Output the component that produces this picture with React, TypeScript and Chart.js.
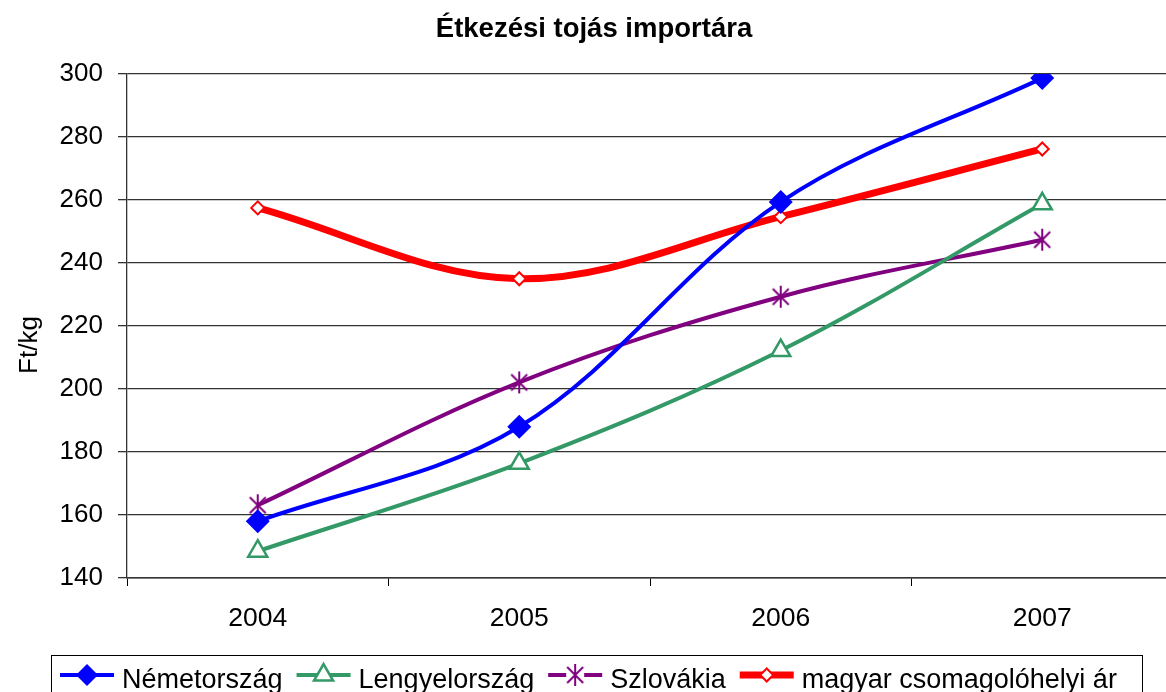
import React, { useEffect, useRef } from "react";
import { Chart, registerables } from "chart.js";

Chart.register(...registerables);

const years = ["2004", "2005", "2006", "2007"];
const nemetorszag = [158, 188, 259.4, 298.7];
const lengyelorszag = [148.5, 176.4, 212.2, 258.8];
const szlovakia = [163.1, 202.1, 229.3, 247.4];
const magyar = [257.5, 235.0, 254.7, 276.2];
const seriesNames = ["Németország", "Lengyelország", "Szlovákia", "magyar csomagolóhelyi ár"];
const yTicks = [140, 160, 180, 200, 220, 240, 260, 280, 300];
const yTitle = "Ft/kg";
const chartTitle = "Étkezési tojás importára";

const FONT = "'Liberation Sans', Arial, sans-serif";
const BLUE = "#0000FF";
const GREEN = "#339966";
const PURPLE = "#800080";
const RED = "#FF0000";

function makeStar(): HTMLCanvasElement {
  const c = document.createElement("canvas");
  c.width = 24;
  c.height = 24;
  const g = c.getContext("2d")!;
  g.strokeStyle = PURPLE;
  g.lineWidth = 2;
  g.beginPath();
  g.moveTo(4, 4); g.lineTo(20, 20);
  g.moveTo(20, 4); g.lineTo(4, 20);
  g.moveTo(12, 1); g.lineTo(12, 23);
  g.stroke();
  return c;
}

export default function App() {
  const ref = useRef<HTMLCanvasElement>(null);
  useEffect(() => {
    const star = makeStar();
    const legendPlugin = {
      id: "customLegend",
      afterDraw(chart: any) {
        const ctx = chart.ctx as CanvasRenderingContext2D;
        ctx.save();
        // y axis title
        ctx.save();
        ctx.translate(30, 345);
        ctx.rotate(-Math.PI / 2);
        ctx.font = `26px ${FONT}`;
        ctx.fillStyle = "#000";
        ctx.textAlign = "center";
        ctx.textBaseline = "middle";
        ctx.fillText(yTitle, 0, 0);
        ctx.restore();

        ctx.strokeStyle = "#000";
        ctx.lineWidth = 1;
        ctx.strokeRect(51.5, 655.5, 1091, 60);
        ctx.font = `27px ${FONT}`;
        ctx.textBaseline = "alphabetic";
        ctx.fillStyle = "#000";
        const y = 675;
        let x = 60;
        const items = [
          { color: BLUE, lw: 4 },
          { color: GREEN, lw: 4 },
          { color: PURPLE, lw: 4 },
          { color: RED, lw: 7 },
        ];
        items.forEach((it, i) => {
          const len = 54;
          ctx.strokeStyle = it.color;
          ctx.lineWidth = it.lw;
          ctx.beginPath();
          ctx.moveTo(x, y);
          ctx.lineTo(x + len, y);
          ctx.stroke();
          const cx = x + len / 2;
          if (i === 0) {
            ctx.fillStyle = BLUE;
            ctx.beginPath();
            ctx.moveTo(cx, y - 11); ctx.lineTo(cx + 11, y); ctx.lineTo(cx, y + 11); ctx.lineTo(cx - 11, y);
            ctx.closePath();
            ctx.fill();
          } else if (i === 1) {
            const r = 11;
            ctx.fillStyle = "#fff";
            ctx.strokeStyle = GREEN;
            ctx.lineWidth = 2.5;
            ctx.beginPath();
            ctx.moveTo(cx, y - r);
            ctx.lineTo(cx + r * 0.866, y + r * 0.5);
            ctx.lineTo(cx - r * 0.866, y + r * 0.5);
            ctx.closePath();
            ctx.fill();
            ctx.stroke();
          } else if (i === 2) {
            ctx.fillStyle = "#fff";
            ctx.fillRect(cx - 9, y - 11, 18, 22);
            ctx.drawImage(star, cx - 12, y - 12);
          } else {
            ctx.fillStyle = "#fff";
            ctx.strokeStyle = RED;
            ctx.lineWidth = 2;
            ctx.beginPath();
            ctx.moveTo(cx, y - 6.5); ctx.lineTo(cx + 6.5, y); ctx.lineTo(cx, y + 6.5); ctx.lineTo(cx - 6.5, y);
            ctx.closePath();
            ctx.fill();
            ctx.stroke();
          }
          x += len + 8;
          ctx.fillStyle = "#000";
          ctx.fillText(seriesNames[i], x, 688);
          x += ctx.measureText(seriesNames[i]).width + 14;
        });
        ctx.restore();
      },
    };

    const chart = new Chart(ref.current!, {
      type: "line",
      data: {
        labels: years,
        datasets: [
          {
            label: seriesNames[0],
            data: nemetorszag,
            borderColor: BLUE,
            backgroundColor: BLUE,
            borderWidth: 4,
            pointStyle: "rectRot",
            pointRadius: 12,
            pointBorderWidth: 0,
            tension: 0.35,
          },
          {
            label: seriesNames[1],
            data: lengyelorszag,
            borderColor: GREEN,
            backgroundColor: "#fff",
            borderWidth: 4,
            pointStyle: "triangle",
            pointRadius: 11,
            pointBorderWidth: 2.5,
            tension: 0.35,
          },
          {
            label: seriesNames[2],
            data: szlovakia,
            borderColor: PURPLE,
            backgroundColor: PURPLE,
            borderWidth: 4,
            pointStyle: star as any,
            pointRadius: 11,
            tension: 0.35,
          },
          {
            label: seriesNames[3],
            data: magyar,
            borderColor: RED,
            backgroundColor: "#fff",
            borderWidth: 7,
            pointStyle: "rectRot",
            pointRadius: 6.5,
            pointBorderWidth: 2,
            tension: 0.35,
          },
        ],
      },
      options: {
        responsive: false,
        animation: false,
        layout: { padding: { left: 0, right: 0, top: 0, bottom: 54 } },
        plugins: {
          legend: { display: false },
          tooltip: { enabled: false },
          title: {
            display: true,
            text: chartTitle,
            color: "#000",
            font: { family: FONT, size: 27.5, weight: "bold" },
            padding: { top: 13, bottom: 28 },
          },
        },
        scales: {
          x: {
            offset: true,
            afterFit: (s: any) => { s.height = 60; },
            grid: {
              display: true,
              offset: true,
              drawOnChartArea: false,
              drawTicks: true,
              tickLength: 8,
              color: "#000",
            },
            border: { display: true, color: "#333", width: 1.5 },
            ticks: {
              color: "#000",
              padding: 17,
              font: { family: FONT, size: 26.5 },
            },
          },
          y: {
            min: 140,
            max: 300,
            afterFit: (s: any) => { s.width = 127; },
            afterBuildTicks: (s: any) => { s.ticks = yTicks.map((v) => ({ value: v })); },
            grid: {
              color: "#333",
              lineWidth: 1.3,
              tickLength: 9,
            },
            border: { display: true, color: "#333", width: 1.3 },
            ticks: {
              color: "#000",
              padding: 15,
              font: { family: FONT, size: 26 },
            },
            title: { display: false },
          },
        },
      },
      plugins: [legendPlugin],
    });
    return () => chart.destroy();
  }, []);

  return (
    <div style={{ position: "fixed", left: 0, top: 0, width: 1166, height: 692, overflow: "hidden", background: "#fff" }}>
      <canvas ref={ref} width={1188} height={692} />
    </div>
  );
}
